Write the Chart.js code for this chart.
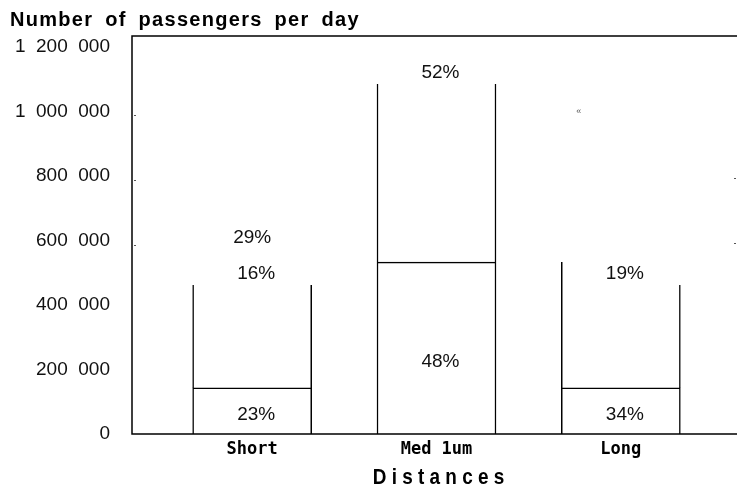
<!DOCTYPE html>
<html>
<head>
<meta charset="utf-8">
<script src="https://cdn.jsdelivr.net/npm/chart.js@4.4.0/dist/chart.umd.min.js"></script>
<style>
  html, body { margin: 0; padding: 0; background: #fff; }
  #wrap { width: 737px; height: 492px; }
</style>
</head>
<body>
<div id="wrap"><canvas id="passengersChart"></canvas></div>
<script>
// categories as they read on the scanned chart
const categories = ['Short', 'Med 1um', 'Long'];
// stacked bar segments, passengers per day
const lowerValues = [143000, 533000, 143000];
const upperValues = [319000, 552000, 319000];
// left edge of the Long bar goes a bit higher than its right edge
const leftEdgeExtra = [0, 0, 71000];
// percentage labels printed on the chart
const lowerLabels = ['23%', '48%', '34%'];
const upperLabels = ['16%', '52%', '19%'];
const extraLabels = ['29%', '', ''];
const yMax = 1200000;
const yStep = 200000;

const chartTitle = 'Number of passengers per day';
const xTitle = 'D i s t a n c e s';

// 1 200 000 style, wide gaps between groups
function formatTick(v) {
  return v.toLocaleString('en-US').split(',').join('  ');
}

// frame lines, labels, titles and stray marks of the scan
const framePlugin = {
  id: 'frame',
  afterDatasetsDraw(chart) {
    const { ctx, chartArea } = chart;
    const y = chart.scales.y;
    const x = chart.scales.x;
    const left = chartArea.left - 28;
    const top = chartArea.top - 11;
    ctx.save();
    ctx.strokeStyle = '#000';
    ctx.lineWidth = 1.5;
    ctx.beginPath();
    ctx.moveTo(chart.width, top);
    ctx.lineTo(left, top);
    ctx.lineTo(left, chartArea.bottom);
    ctx.lineTo(chart.width, chartArea.bottom);
    ctx.stroke();

    // small dashes left by the scan
    ctx.lineWidth = 1;
    ctx.strokeStyle = '#555';
    [1000000, 800000, 600000].forEach(v => {
      const py = Math.round(y.getPixelForValue(v)) + 4.5;
      ctx.beginPath(); ctx.moveTo(left + 2, py); ctx.lineTo(left + 4, py); ctx.stroke();
    });
    [800000, 600000].forEach(v => {
      const py = Math.round(y.getPixelForValue(v)) + 2.5;
      ctx.beginPath(); ctx.moveTo(chart.width - 3, py); ctx.lineTo(chart.width - 1, py); ctx.stroke();
    });
    ctx.fillStyle = '#555';
    ctx.font = '9px "Liberation Sans"';
    ctx.textAlign = 'center';
    ctx.textBaseline = 'middle';
    ctx.fillText('\u00ab', x.getPixelForValue(2) - 42, y.getPixelForValue(1000000));

    // percentage labels
    ctx.fillStyle = '#111';
    ctx.font = '19px "Liberation Sans", Arial, sans-serif';
    const lowMeta = chart.getDatasetMeta(0).data;
    const upMeta = chart.getDatasetMeta(1).data;
    lowMeta.forEach((el, i) => {
      ctx.fillText(lowerLabels[i], el.x + 4, el.base - 0.42 * (el.base - el.y));
    });
    upMeta.forEach((el, i) => {
      ctx.fillText(upperLabels[i], el.x + 4, el.y - 11);
      if (extraLabels[i]) ctx.fillText(extraLabels[i], el.x, el.y - 47);
    });

    // x axis title, narrow and spaced out
    ctx.fillStyle = '#000';
    ctx.textBaseline = 'alphabetic';
    ctx.font = 'bold 22px "Liberation Sans", Arial, sans-serif';
    ctx.save();
    ctx.translate((chartArea.left + chartArea.right) / 2 + 2, chart.height - 8);
    ctx.scale(0.86, 1);
    ctx.fillText(xTitle, 0, 0);
    ctx.restore();

    // chart title, top left
    ctx.textAlign = 'left';
    ctx.font = 'bold 20px "Liberation Sans", Arial, sans-serif';
    ctx.letterSpacing = '1.3px';
    ctx.wordSpacing = '5px';
    ctx.fillText(chartTitle, 10, 26);
    ctx.restore();
  }
};

const barBase = {
  backgroundColor: '#fff',
  borderColor: '#000',
  borderSkipped: false,
  barThickness: 119,
  stack: 'passengers'
};

new Chart(document.getElementById('passengersChart'), {
  type: 'bar',
  data: {
    labels: categories,
    datasets: [
      Object.assign({ label: 'lower', data: lowerValues, borderWidth: { left: 1.5, right: 1.5, top: 1.5, bottom: 0 } }, barBase),
      Object.assign({ label: 'upper', data: upperValues, borderWidth: { left: 1.5, right: 1.5, top: 0, bottom: 0 } }, barBase),
      Object.assign({ label: 'edge', data: leftEdgeExtra, borderWidth: { left: 1.5, right: 0, top: 0, bottom: 0 } }, barBase)
    ]
  },
  options: {
    responsive: true,
    maintainAspectRatio: false,
    animation: false,
    layout: { padding: { top: 47, right: 24, left: 0, bottom: 0 } },
    plugins: {
      legend: { display: false },
      tooltip: { enabled: false }
    },
    scales: {
      x: {
        stacked: true,
        afterFit: s => { s.height = 58; },
        grid: { display: false, drawTicks: false },
        border: { display: false },
        ticks: {
          padding: 5,
          color: '#000',
          font: { family: '"DejaVu Sans Mono", monospace', size: 17, weight: 'bold' }
        }
      },
      y: {
        stacked: true,
        min: 0,
        max: yMax,
        // fixed width; tick padding must not push the plot area down
        afterFit: s => { s.width = 160; s.paddingTop = 0; s.paddingBottom = 0; },
        grid: { display: false, drawTicks: false },
        border: { display: false },
        ticks: {
          stepSize: yStep,
          padding: 50,
          color: '#111',
          font: { family: '"Liberation Sans", Arial, sans-serif', size: 19 },
          callback: v => formatTick(v)
        }
      }
    }
  },
  plugins: [framePlugin]
});
</script>
</body>
</html>
